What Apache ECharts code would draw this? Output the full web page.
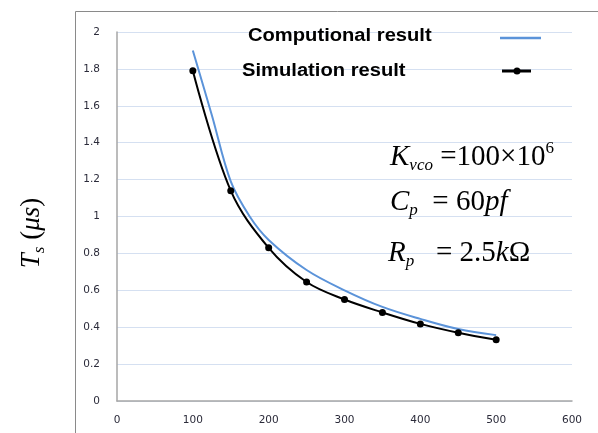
<!DOCTYPE html>
<html>
<head>
<meta charset="utf-8">
<script src="https://cdn.jsdelivr.net/npm/echarts@6/dist/echarts.min.js"></script>
<style>html,body{margin:0;padding:0;background:#fff}#c{width:598px;height:433px}</style>
</head>
<body>
<div id="c"></div>
<script>
// Data
var simX = [100, 150, 200, 250, 300, 350, 400, 450, 500];
var simY = [1.79, 1.14, 0.83, 0.645, 0.55, 0.48, 0.418, 0.37, 0.332];
var compX = [100, 125, 150, 175, 200, 250, 300, 350, 400, 450, 500];
var compY = [1.90, 1.55, 1.19, 1.00, 0.873, 0.71, 0.60, 0.51, 0.445, 0.39, 0.357];
var xTicks = [0, 100, 200, 300, 400, 500, 600];
var yTicks = [0, 0.2, 0.4, 0.6, 0.8, 1, 1.2, 1.4, 1.6, 1.8, 2];
var legendNames = ['Computional result', 'Simulation result'];

function pairs(xs, ys) { return xs.map(function (x, i) { return [x, ys[i]]; }); }

var chart = echarts.init(document.getElementById('c'), null, {renderer: 'canvas'});
var tickFont = {fontFamily: 'DejaVu Sans', fontSize: 10.5, color: '#2b2b3a'};
var mathRich = {
  i: {fontFamily: 'Liberation Serif', fontStyle: 'italic', fontSize: 29, lineHeight: 34, color: '#111'},
  n: {fontFamily: 'Liberation Serif', fontSize: 29, lineHeight: 34, color: '#111'},
  sub: {fontFamily: 'Liberation Serif', fontStyle: 'italic', fontSize: 17, lineHeight: 12, verticalAlign: 'bottom', color: '#111'},
  sup: {fontFamily: 'Liberation Serif', fontSize: 17, lineHeight: 34, verticalAlign: 'top', color: '#111'}
};
var titleRich = {
  i: {fontFamily: 'Liberation Serif', fontStyle: 'italic', fontSize: 27, lineHeight: 32, color: '#111'},
  n: {fontFamily: 'Liberation Serif', fontSize: 27, lineHeight: 32, color: '#111'},
  sub: {fontFamily: 'Liberation Serif', fontStyle: 'italic', fontSize: 17, lineHeight: 12, verticalAlign: 'bottom', color: '#111'}
};

chart.setOption({
  animation: false,
  grid: {left: 117, right: 26, top: 32, bottom: 32},
  xAxis: {
    type: 'value', min: xTicks[0], max: xTicks[xTicks.length - 1], interval: 100,
    axisLine: {show: true, lineStyle: {color: '#a6a6a6', width: 1.5}},
    axisTick: {show: false},
    splitLine: {show: false},
    axisLabel: Object.assign({margin: 14}, tickFont)
  },
  yAxis: {
    type: 'value', min: yTicks[0], max: yTicks[yTicks.length - 1], interval: 0.2,
    axisLine: {show: true, lineStyle: {color: '#a6a6a6', width: 1.5}},
    axisTick: {show: false},
    splitLine: {show: true, lineStyle: {color: '#d5e0f1', width: 1}},
    axisLabel: Object.assign({margin: 17, formatter: function (v) { return String(Math.round(v * 10) / 10); }}, tickFont)
  },
  series: [
    {
      name: legendNames[0], type: 'line', smooth: 0.35, showSymbol: false,
      data: pairs(compX, compY),
      lineStyle: {color: '#5b93d9', width: 2}, itemStyle: {color: '#5b93d9'}
    },
    {
      name: legendNames[1], type: 'line', smooth: 0.35, symbol: 'circle', symbolSize: 7,
      data: pairs(simX, simY),
      lineStyle: {color: '#000', width: 2}, itemStyle: {color: '#000'}
    }
  ],
  graphic: [
    {type: 'rect', silent: true, z: -1, shape: {x: 75.5, y: 11.5, width: 600, height: 500},
      style: {fill: 'none', stroke: '#8a8a8a', lineWidth: 1}},
    {type: 'text', z: 100, x: 248, y: 36, scaleX: 1.12, style: {text: legendNames[0], font: 'bold 18px "Liberation Sans"', fill: '#000', textVerticalAlign: 'middle'}},
    {type: 'text', z: 100, x: 242, y: 71, scaleX: 1.12, style: {text: legendNames[1], font: 'bold 18px "Liberation Sans"', fill: '#000', textVerticalAlign: 'middle'}},
    {type: 'line', z: 100, shape: {x1: 500, y1: 38, x2: 541, y2: 38}, style: {stroke: '#5b93d9', lineWidth: 2.5}},
    {type: 'line', z: 100, shape: {x1: 502, y1: 71, x2: 531, y2: 71}, style: {stroke: '#000', lineWidth: 3}},
    {type: 'circle', z: 100, shape: {cx: 517, cy: 71, r: 3.5}, style: {fill: '#000'}},
    {type: 'text', z: 100, x: 390, y: 157, style: {text: '{i|K}{sub|vco}{n| =100×10}{sup|6}', rich: mathRich, textVerticalAlign: 'middle'}},
    {type: 'text', z: 100, x: 390, y: 202, style: {text: '{i|C}{sub|p}{n|  = 60}{i|pf}', rich: mathRich, textVerticalAlign: 'middle'}},
    {type: 'text', z: 100, x: 388, y: 253, style: {text: '{i|R}{sub|p}{n|   = 2.5}{i|k}{n|Ω}', rich: mathRich, textVerticalAlign: 'middle'}},
    {type: 'text', z: 100, x: 32, y: 233, rotation: Math.PI / 2,
      style: {text: '{i|T}{sub|s}{n| (}{i|μs}{n|)}', rich: titleRich, textAlign: 'center', textVerticalAlign: 'middle'}}
  ]
});
</script>
</body>
</html>
